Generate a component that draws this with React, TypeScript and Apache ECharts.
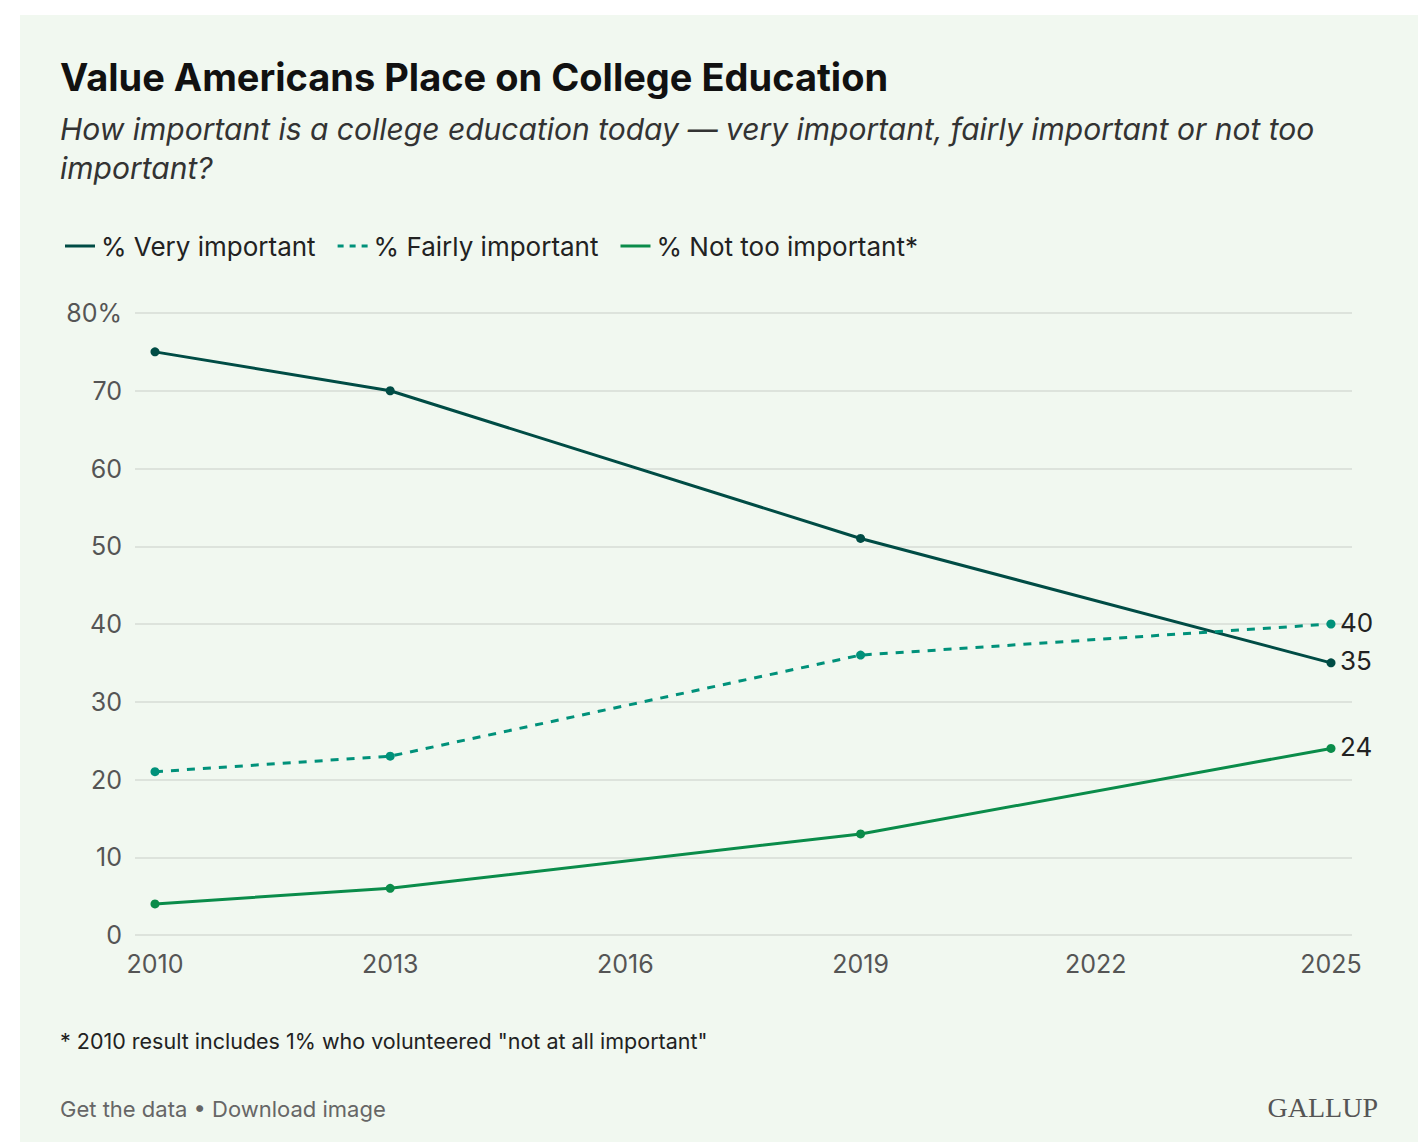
import { useEffect, useRef } from "react";
import * as echarts from "echarts";

const years = [2010, 2013, 2019, 2025];
const veryImportant = [75, 70, 51, 35];
const fairlyImportant = [21, 23, 36, 40];
const notTooImportant = [4, 6, 13, 24];
const xTicks = [2010, 2013, 2016, 2019, 2022, 2025];

const FONT = "Inter, 'Noto Sans', sans-serif";
const SOLID = "path://M0,0h10v1h-10z";
const DASHED = "path://M0,0h2v1h-2zM4,0h2v1h-2zM8,0h2v1h-2z";

function App() {
    const chartRef = useRef<HTMLDivElement>(null);

    useEffect(() => {
        if (!chartRef.current) return;
        document.body.style.margin = "0";
        const chart = echarts.init(chartRef.current, undefined, { renderer: "svg" });

        const pts = (vals: number[]) => years.map((y, i) => [y, vals[i]]);
        const mk = (name: string, vals: number[], color: string, dashed = false) => ({
            name,
            type: "line",
            data: pts(vals),
            symbol: "circle",
            symbolSize: 9,
            showSymbol: true,
            itemStyle: { color },
            lineStyle: { color, width: 3, type: dashed ? [8, 8] : "solid" },
            endLabel: {
                show: true,
                formatter: (p: any) => String(p.value[1]),
                fontSize: 26,
                color: "#222",
                fontFamily: FONT,
                distance: 9,
                offset: [0, -2],
            },
        });

        chart.setOption({
            animation: false,
            backgroundColor: "#ffffff",
            textStyle: { fontFamily: FONT },
            graphic: [
                { type: "rect", shape: { x: 20, y: 15, width: 1398, height: 1127 }, style: { fill: "#f1f8f0" }, z: -10 },
                { type: "text", left: 60, top: 58, style: { text: "Value Americans Place on College Education", font: `bold 38px ${FONT}`, fill: "#111" } },
                { type: "text", left: 60, top: 109, style: { text: "How important is a college education today — very important, fairly important or not too\nimportant?", font: `italic 30px ${FONT}`, fill: "#333", lineHeight: 39 } },
                { type: "text", left: 60, top: 1030, style: { text: '* 2010 result includes 1% who volunteered "not at all important"', font: `21.5px ${FONT}`, fill: "#222" } },
                { type: "text", left: 60, top: 1098, style: { text: "Get the data • Download image", font: `22px ${FONT}`, fill: "#666" } },
                { type: "text", right: 40, top: 1093, style: { text: "GALLUP", font: `28px 'Liberation Serif', serif`, fill: "#555" } },
            ],
            legend: {
                left: 60,
                top: 228,
                itemWidth: 32,
                itemHeight: 3,
                itemGap: 22,
                textStyle: { fontSize: 26, color: "#222", fontFamily: FONT },
                data: [
                    { name: "% Very important", icon: SOLID },
                    { name: "% Fairly important", icon: DASHED },
                    { name: "% Not too important*", icon: SOLID },
                ],
            },
            grid: { left: 135, right: 66, top: 313, bottom: 207 },
            xAxis: {
                type: "value",
                min: 2009.745,
                max: 2025.268,
                axisLine: { show: false },
                axisTick: { show: false },
                splitLine: { show: false },
                axisLabel: {
                    customValues: xTicks,
                    formatter: (v: number) => String(v),
                    fontSize: 25,
                    color: "#555",
                    margin: 16,
                },
            },
            yAxis: {
                type: "value",
                min: 0,
                max: 80,
                interval: 10,
                axisLine: { show: false },
                axisTick: { show: false },
                splitLine: { lineStyle: { color: "#dde3dc", width: 2 } },
                axisLabel: {
                    formatter: (v: number) => (v === 80 ? "80%" : String(v)),
                    fontSize: 25,
                    color: "#555",
                    margin: 13,
                },
            },
            series: [
                mk("% Very important", veryImportant, "#004c45"),
                mk("% Fairly important", fairlyImportant, "#00917a", true),
                mk("% Not too important*", notTooImportant, "#0a8c4a"),
            ],
        });

        return () => chart.dispose();
    }, []);

    return <div ref={chartRef} style={{ width: 1418, height: 1142 }} />;
}

export default App;
